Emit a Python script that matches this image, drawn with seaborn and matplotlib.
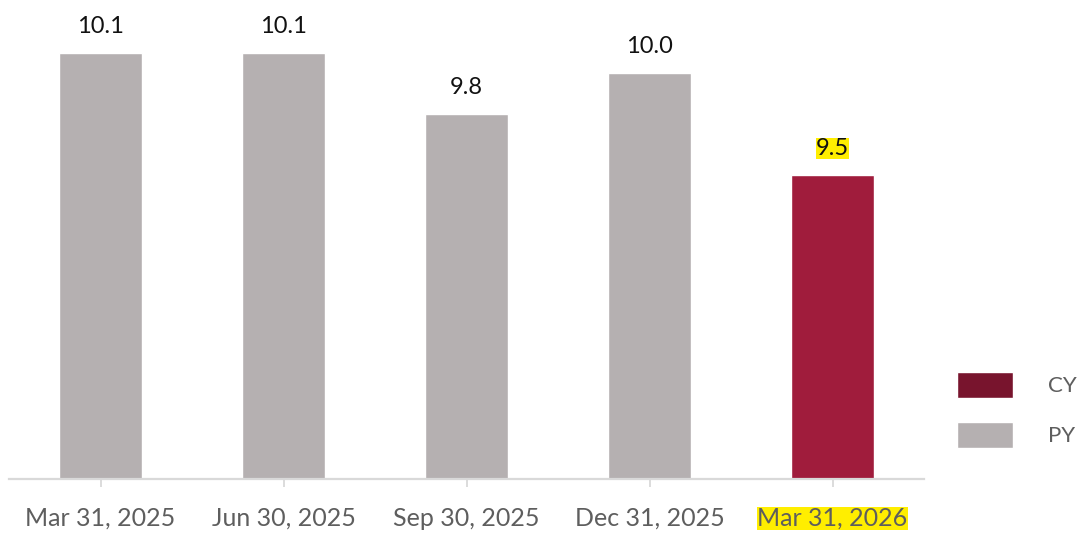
import pandas as pd
import matplotlib.pyplot as plt
import seaborn as sns
from matplotlib.patches import Patch

dates = ["Mar 31, 2025", "Jun 30, 2025", "Sep 30, 2025", "Dec 31, 2025", "Mar 31, 2026"]
values = [10.1, 10.1, 9.8, 10.0, 9.5]
periods = ["PY", "PY", "PY", "PY", "CY"]

bar_colors = {"PY": "#b5b0b1", "CY": "#a01c3c"}
legend_colors = {"CY": "#78142d", "PY": "#b5b0b1"}


def run_chart():

    df = pd.DataFrame({
        "date": dates,
        "value": values,
        "period": periods
    })

    sns.set_style("white")
    plt.rcParams["font.family"] = ["Lato", "DejaVu Sans"]

    fig = plt.figure(figsize=(10.83, 5.37), dpi=100)
    ax = fig.add_axes([9 / 1083, 58 / 537, 915 / 1083, 479 / 537])

    sns.barplot(
        data=df,
        x="date",
        y="value",
        hue="period",
        palette=bar_colors,
        saturation=1,
        dodge=False,
        width=0.45,
        legend=False,
        ax=ax
    )

    ax.set_ylim(8.0, 8.0 + 479 / 203)
    ax.set_xlim(-0.5, len(dates) - 0.5)

    # value labels above the bars
    for i, v in enumerate(values):
        box = None
        if periods[i] == "CY":
            box = dict(facecolor="#ffee00", edgecolor="none", pad=0)
        ax.annotate(
            f"{v:.1f}",
            xy=(i, v),
            xytext=(0, 19),
            textcoords="offset points",
            ha="center",
            va="center",
            fontsize=17,
            color="#111111",
            bbox=box
        )

    for side in ["left", "right", "top"]:
        ax.spines[side].set_visible(False)
    ax.spines["bottom"].set_color("#d9d9d9")
    ax.spines["bottom"].set_linewidth(1.6)

    ax.set_yticks([])
    ax.set_xlabel("")
    ax.set_ylabel("")
    ax.tick_params(
        axis="x",
        bottom=True,
        length=6,
        width=1.3,
        color="#d9d9d9",
        labelsize=18,
        labelcolor="#5e5e5e",
        pad=14
    )

    for lbl, p in zip(ax.get_xticklabels(), periods):
        if p == "CY":
            lbl.set_bbox(dict(facecolor="#ffee00", edgecolor="none", pad=0))

    handles = [
        Patch(facecolor=legend_colors["CY"], label="CY"),
        Patch(facecolor=legend_colors["PY"], label="PY")
    ]
    fig.legend(
        handles=handles,
        loc="center left",
        bbox_to_anchor=(946 / 1083, 1 - 410 / 537),
        frameon=False,
        borderpad=0,
        handlelength=2.5,
        handleheight=1.4,
        handletextpad=1.6,
        labelspacing=1.1,
        fontsize=16,
        labelcolor="#5e5e5e"
    )

    fig.savefig("out.png", dpi=100)
    plt.close(fig)


if __name__ == "__main__":

    run_chart()
